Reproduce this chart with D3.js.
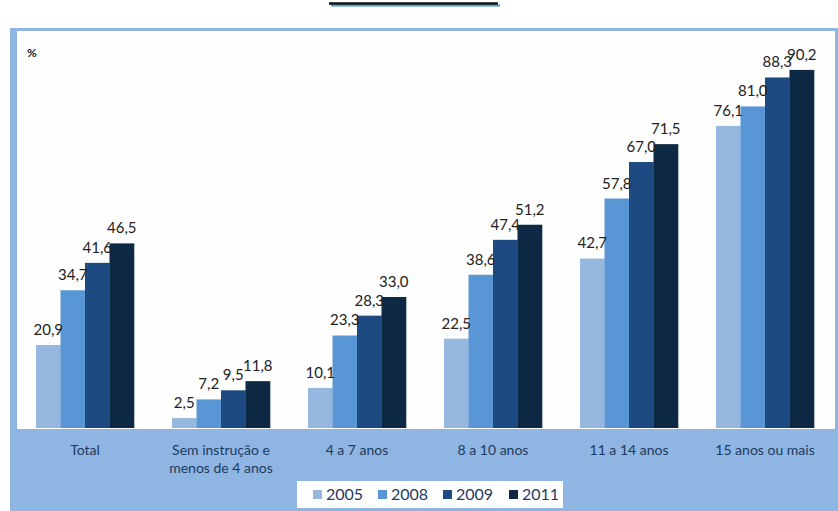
<!DOCTYPE html>
<html><head><meta charset="utf-8">
<script src="https://cdn.jsdelivr.net/npm/d3@7"></script>
<style>
html,body{margin:0;padding:0;background:#fff;}
svg{display:block;}
text{font-family:Lato,"Open Sans",sans-serif;}
</style></head>
<body>
<script>
const categories = ["Total", "Sem instrução e\nmenos de 4 anos", "4 a 7 anos", "8 a 10 anos", "11 a 14 anos", "15 anos ou mais"];
const years = ["2005", "2008", "2009", "2011"];
const v2005 = [20.9, 2.5, 10.1, 22.5, 42.7, 76.1];
const v2008 = [34.7, 7.2, 23.3, 38.6, 57.8, 81.0];
const v2009 = [41.6, 9.5, 28.3, 47.4, 67.0, 88.3];
const v2011 = [46.5, 11.8, 33.0, 51.2, 71.5, 90.2];
const seriesValues = [v2005, v2008, v2009, v2011];
const colors = ["#96b8df", "#5896d6", "#1d4a80", "#0e2944"];
const yDomain = [0, 100];
const unitLabel = "%";

const W = 838, H = 511;
const svg = d3.select("body").append("svg").attr("width", W).attr("height", H);

// outer frame
svg.append("rect").attr("x", 10).attr("y", 28).attr("width", W - 10).attr("height", H - 28).attr("fill", "#8fb5e2");
// plot area
const plot = {x0: 17, x1: 835, y0: 31, y1: 429};
svg.append("rect").attr("x", plot.x0).attr("y", plot.y0).attr("width", plot.x1 - plot.x0).attr("height", plot.y1 - plot.y0).attr("fill", "#fefefe");

// title underline (title itself lies above the visible area)
svg.append("line").attr("x1", 331).attr("x2", 500).attr("y1", 5.5).attr("y2", 5.5).attr("stroke", "#3a9be0").attr("stroke-width", 2);
svg.append("line").attr("x1", 329).attr("x2", 498).attr("y1", 3.5).attr("y2", 3.5).attr("stroke", "#111").attr("stroke-width", 2.5);

const x0 = d3.scaleBand().domain(categories).range([17, 833]).paddingInner(38/136).paddingOuter(19/136);
const x1 = d3.scaleBand().domain(years).range([0, x0.bandwidth()]);
const y = d3.scaleLinear().domain(yDomain).range([428, 31]);

svg.append("text").attr("x", 27).attr("y", 57).attr("font-size", 12).attr("font-weight", "bold").attr("fill", "#222").text(unitLabel);

const groups = svg.append("g").selectAll("g").data(categories).join("g")
  .attr("transform", d => `translate(${x0(d)},0)`);

const fmt = v => v.toFixed(1).replace(".", ",");

groups.each(function(cat, ci) {
  const g = d3.select(this);
  years.forEach((yr, si) => {
    const v = seriesValues[si][ci];
    g.append("rect").attr("x", x1(yr)).attr("width", x1.bandwidth() + 0.3)
      .attr("y", y(v)).attr("height", y(0) - y(v)).attr("fill", colors[si]);
  });
  years.forEach((yr, si) => {
    const v = seriesValues[si][ci];
    g.append("text").attr("x", x1(yr) + x1.bandwidth() / 2).attr("y", y(v) - 10)
      .attr("text-anchor", "middle").attr("font-size", 15).attr("fill", "#222").text(fmt(v));
  });
});

// category axis labels
const xAxis = svg.append("g");
categories.forEach(c => {
  const lines = c.split("\n");
  const t = xAxis.append("text").attr("text-anchor", "middle").attr("font-size", 14).attr("fill", "#1f3a5f");
  lines.forEach((ln, i) => {
    t.append("tspan").attr("x", x0(c) + x0.bandwidth() / 2).attr("y", 455 + i * 18).text(ln);
  });
});

// legend
svg.append("rect").attr("x", 297).attr("y", 481).attr("width", 266).attr("height", 27).attr("fill", "#fff");
const leg = svg.append("g");
const legX = [313, 378, 443, 509];
years.forEach((yr, i) => {
  leg.append("rect").attr("x", legX[i]).attr("y", 490).attr("width", 9).attr("height", 9).attr("fill", colors[i]);
  leg.append("text").attr("x", legX[i] + 13).attr("y", 500).attr("font-size", 16).attr("fill", "#1f3a5f").text(yr);
});
</script>
</body></html>
